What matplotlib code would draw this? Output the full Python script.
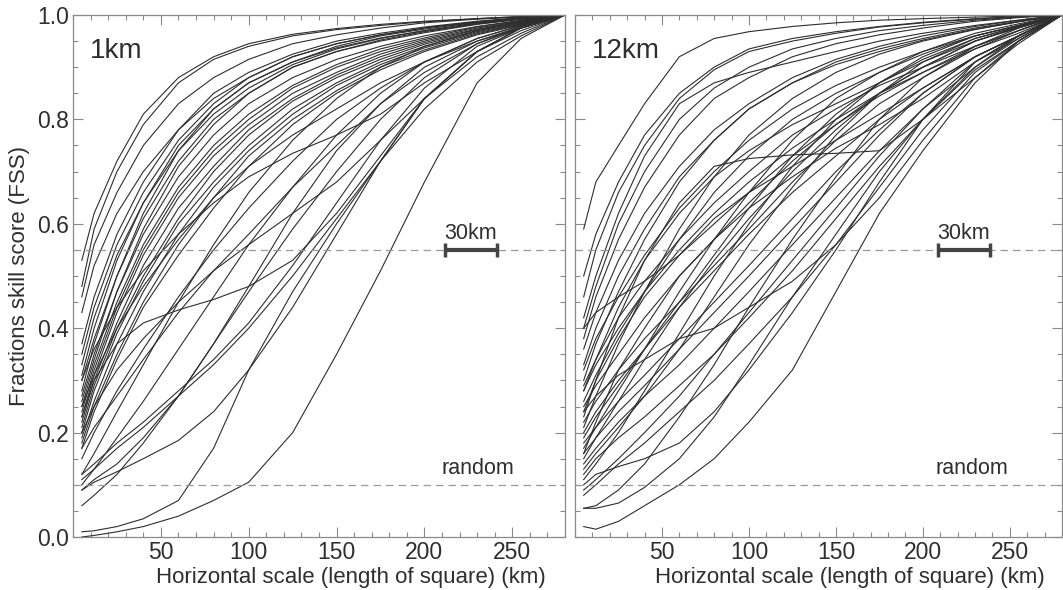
import matplotlib
matplotlib.use('Agg')

import matplotlib.pyplot as plt
from matplotlib.ticker import MultipleLocator

plt.rcParams['font.family'] = ['Liberation Sans', 'DejaVu Sans']
plt.rcParams['font.size'] = 16

# horizontal scale (km) at which each curve is sampled
scale_km = [5, 12, 25, 40, 60, 80, 100, 125, 150, 175, 200, 230, 255, 280]

# FSS curves, 1km model
fss_1km = [
  [0.53, 0.62, 0.72, 0.81, 0.88, 0.92, 0.945, 0.963, 0.974, 0.982, 0.988, 0.993, 0.997, 1.0],
  [0.48, 0.59, 0.70, 0.79, 0.87, 0.915, 0.94, 0.96, 0.972, 0.98, 0.987, 0.993, 0.997, 1.0],
  [0.46, 0.56, 0.66, 0.75, 0.83, 0.88, 0.915, 0.945, 0.962, 0.975, 0.985, 0.992, 0.996, 1.0],
  [0.43, 0.52, 0.62, 0.70, 0.78, 0.84, 0.88, 0.92, 0.945, 0.962, 0.975, 0.987, 0.994, 1.0],
  [0.37, 0.46, 0.58, 0.68, 0.78, 0.85, 0.89, 0.925, 0.95, 0.965, 0.977, 0.988, 0.995, 1.0],
  [0.35, 0.44, 0.56, 0.66, 0.76, 0.83, 0.88, 0.92, 0.945, 0.962, 0.975, 0.987, 0.994, 1.0],
  [0.33, 0.42, 0.54, 0.64, 0.74, 0.81, 0.86, 0.905, 0.935, 0.955, 0.97, 0.985, 0.993, 1.0],
  [0.31, 0.40, 0.53, 0.64, 0.75, 0.82, 0.87, 0.91, 0.94, 0.96, 0.973, 0.986, 0.994, 1.0],
  [0.30, 0.38, 0.50, 0.61, 0.72, 0.80, 0.85, 0.90, 0.93, 0.952, 0.968, 0.983, 0.992, 1.0],
  [0.28, 0.37, 0.50, 0.62, 0.74, 0.82, 0.87, 0.91, 0.937, 0.956, 0.97, 0.984, 0.993, 1.0],
  [0.27, 0.35, 0.47, 0.58, 0.69, 0.77, 0.83, 0.88, 0.915, 0.94, 0.96, 0.978, 0.99, 1.0],
  [0.26, 0.34, 0.47, 0.59, 0.71, 0.79, 0.85, 0.90, 0.93, 0.95, 0.966, 0.982, 0.992, 1.0],
  [0.25, 0.33, 0.45, 0.56, 0.67, 0.75, 0.81, 0.865, 0.905, 0.935, 0.956, 0.977, 0.989, 1.0],
  [0.24, 0.32, 0.44, 0.55, 0.66, 0.74, 0.80, 0.86, 0.90, 0.93, 0.953, 0.975, 0.988, 1.0],
  [0.23, 0.31, 0.43, 0.54, 0.65, 0.73, 0.79, 0.85, 0.89, 0.925, 0.95, 0.973, 0.987, 1.0],
  [0.22, 0.30, 0.41, 0.52, 0.63, 0.71, 0.78, 0.84, 0.885, 0.92, 0.947, 0.972, 0.986, 1.0],
  [0.21, 0.29, 0.40, 0.50, 0.61, 0.70, 0.77, 0.835, 0.88, 0.915, 0.944, 0.97, 0.985, 1.0],
  [0.20, 0.28, 0.39, 0.49, 0.60, 0.68, 0.75, 0.82, 0.87, 0.91, 0.94, 0.968, 0.984, 1.0],
  [0.19, 0.26, 0.37, 0.47, 0.58, 0.67, 0.74, 0.81, 0.865, 0.905, 0.937, 0.966, 0.983, 1.0],
  [0.18, 0.25, 0.35, 0.45, 0.56, 0.65, 0.73, 0.80, 0.855, 0.90, 0.933, 0.964, 0.982, 1.0],
  [0.17, 0.24, 0.34, 0.44, 0.54, 0.63, 0.71, 0.79, 0.85, 0.895, 0.93, 0.962, 0.981, 1.0],
  [0.25, 0.31, 0.40, 0.48, 0.57, 0.65, 0.71, 0.77, 0.82, 0.87, 0.91, 0.95, 0.975, 1.0],
  [0.23, 0.30, 0.37, 0.41, 0.435, 0.455, 0.48, 0.53, 0.62, 0.73, 0.84, 0.93, 0.975, 1.0],
  [0.30, 0.36, 0.44, 0.51, 0.58, 0.64, 0.69, 0.735, 0.77, 0.81, 0.87, 0.93, 0.97, 1.0],
  [0.15, 0.20, 0.28, 0.36, 0.46, 0.55, 0.63, 0.72, 0.80, 0.86, 0.91, 0.955, 0.98, 1.0],
  [0.12, 0.16, 0.24, 0.33, 0.45, 0.56, 0.66, 0.76, 0.84, 0.90, 0.94, 0.97, 0.988, 1.0],
  [0.10, 0.13, 0.19, 0.26, 0.36, 0.46, 0.56, 0.67, 0.77, 0.85, 0.91, 0.955, 0.98, 1.0],
  [0.09, 0.11, 0.14, 0.19, 0.27, 0.37, 0.48, 0.62, 0.74, 0.83, 0.90, 0.95, 0.978, 1.0],
  [0.09, 0.105, 0.125, 0.15, 0.185, 0.24, 0.32, 0.44, 0.58, 0.72, 0.84, 0.93, 0.975, 1.0],
  [0.06, 0.08, 0.12, 0.18, 0.27, 0.37, 0.47, 0.59, 0.70, 0.80, 0.88, 0.945, 0.975, 1.0],
  [0.12, 0.14, 0.18, 0.22, 0.28, 0.34, 0.41, 0.52, 0.64, 0.76, 0.86, 0.94, 0.975, 1.0],
  [0.17, 0.21, 0.27, 0.34, 0.43, 0.51, 0.58, 0.67, 0.75, 0.83, 0.89, 0.945, 0.978, 1.0],
  [0.11, 0.13, 0.17, 0.21, 0.27, 0.33, 0.40, 0.50, 0.61, 0.72, 0.82, 0.91, 0.96, 1.0],
  [0.20, 0.25, 0.32, 0.38, 0.45, 0.51, 0.56, 0.62, 0.68, 0.76, 0.84, 0.92, 0.965, 1.0],
  [0.01, 0.012, 0.02, 0.035, 0.07, 0.17, 0.32, 0.47, 0.60, 0.72, 0.84, 0.93, 0.975, 1.0],
  [0.0, 0.003, 0.01, 0.02, 0.04, 0.07, 0.105, 0.2, 0.35, 0.51, 0.68, 0.87, 0.955, 1.0],
]

# FSS curves, 12km model
fss_12km = [
  [0.59, 0.68, 0.75, 0.83, 0.92, 0.955, 0.968, 0.978, 0.985, 0.99, 0.993, 0.996, 0.998, 1.0],
  [0.50, 0.58, 0.68, 0.77, 0.85, 0.90, 0.935, 0.955, 0.968, 0.978, 0.986, 0.993, 0.997, 1.0],
  [0.46, 0.55, 0.66, 0.75, 0.84, 0.895, 0.93, 0.95, 0.965, 0.977, 0.985, 0.992, 0.997, 1.0],
  [0.42, 0.50, 0.62, 0.73, 0.83, 0.87, 0.89, 0.91, 0.93, 0.95, 0.965, 0.98, 0.99, 1.0],
  [0.23, 0.30, 0.42, 0.53, 0.64, 0.71, 0.725, 0.732, 0.735, 0.74, 0.80, 0.88, 0.945, 1.0],
  [0.10, 0.12, 0.135, 0.15, 0.18, 0.24, 0.32, 0.43, 0.55, 0.68, 0.80, 0.91, 0.96, 1.0],
  [0.055, 0.055, 0.065, 0.095, 0.15, 0.23, 0.33, 0.46, 0.58, 0.70, 0.80, 0.90, 0.96, 1.0],
  [0.055, 0.06, 0.09, 0.14, 0.23, 0.33, 0.44, 0.57, 0.69, 0.80, 0.88, 0.94, 0.975, 1.0],
  [0.02, 0.015, 0.03, 0.06, 0.10, 0.15, 0.22, 0.32, 0.47, 0.62, 0.74, 0.87, 0.95, 1.0],
  [0.40, 0.48, 0.60, 0.70, 0.80, 0.86, 0.90, 0.935, 0.955, 0.97, 0.98, 0.99, 0.996, 1.0],
  [0.38, 0.46, 0.57, 0.67, 0.77, 0.84, 0.88, 0.92, 0.945, 0.962, 0.975, 0.988, 0.995, 1.0],
  [0.36, 0.43, 0.53, 0.62, 0.71, 0.78, 0.83, 0.88, 0.915, 0.94, 0.96, 0.978, 0.99, 1.0],
  [0.33, 0.40, 0.50, 0.59, 0.69, 0.76, 0.82, 0.87, 0.91, 0.935, 0.955, 0.975, 0.988, 1.0],
  [0.32, 0.38, 0.46, 0.54, 0.63, 0.70, 0.76, 0.82, 0.865, 0.90, 0.93, 0.96, 0.98, 1.0],
  [0.30, 0.37, 0.47, 0.57, 0.68, 0.76, 0.82, 0.87, 0.905, 0.93, 0.952, 0.973, 0.987, 1.0],
  [0.29, 0.34, 0.42, 0.49, 0.57, 0.64, 0.70, 0.77, 0.82, 0.865, 0.90, 0.94, 0.97, 1.0],
  [0.28, 0.33, 0.40, 0.47, 0.55, 0.62, 0.68, 0.745, 0.80, 0.85, 0.89, 0.935, 0.965, 1.0],
  [0.26, 0.31, 0.39, 0.47, 0.57, 0.66, 0.73, 0.80, 0.85, 0.89, 0.925, 0.96, 0.98, 1.0],
  [0.25, 0.29, 0.35, 0.42, 0.50, 0.57, 0.64, 0.72, 0.79, 0.845, 0.89, 0.94, 0.97, 1.0],
  [0.24, 0.30, 0.38, 0.46, 0.54, 0.61, 0.66, 0.71, 0.76, 0.81, 0.86, 0.92, 0.96, 1.0],
  [0.22, 0.26, 0.32, 0.38, 0.45, 0.52, 0.59, 0.68, 0.76, 0.83, 0.88, 0.935, 0.97, 1.0],
  [0.21, 0.27, 0.37, 0.47, 0.59, 0.69, 0.77, 0.84, 0.89, 0.925, 0.95, 0.972, 0.987, 1.0],
  [0.20, 0.24, 0.30, 0.36, 0.44, 0.51, 0.58, 0.66, 0.73, 0.80, 0.86, 0.92, 0.96, 1.0],
  [0.19, 0.23, 0.29, 0.36, 0.45, 0.54, 0.63, 0.73, 0.81, 0.87, 0.915, 0.955, 0.978, 1.0],
  [0.18, 0.21, 0.26, 0.31, 0.38, 0.45, 0.52, 0.61, 0.70, 0.78, 0.85, 0.92, 0.96, 1.0],
  [0.17, 0.21, 0.28, 0.36, 0.47, 0.57, 0.66, 0.76, 0.84, 0.89, 0.93, 0.965, 0.983, 1.0],
  [0.16, 0.19, 0.24, 0.29, 0.36, 0.43, 0.50, 0.59, 0.68, 0.77, 0.85, 0.92, 0.96, 1.0],
  [0.15, 0.19, 0.26, 0.34, 0.44, 0.53, 0.61, 0.70, 0.78, 0.85, 0.90, 0.95, 0.977, 1.0],
  [0.14, 0.17, 0.22, 0.27, 0.33, 0.40, 0.47, 0.56, 0.65, 0.74, 0.82, 0.90, 0.955, 1.0],
  [0.13, 0.16, 0.21, 0.27, 0.36, 0.46, 0.56, 0.67, 0.77, 0.85, 0.91, 0.955, 0.978, 1.0],
  [0.12, 0.15, 0.19, 0.23, 0.29, 0.35, 0.42, 0.51, 0.61, 0.71, 0.80, 0.895, 0.95, 1.0],
  [0.11, 0.14, 0.20, 0.28, 0.39, 0.50, 0.60, 0.71, 0.80, 0.87, 0.92, 0.96, 0.98, 1.0],
  [0.09, 0.11, 0.15, 0.20, 0.27, 0.35, 0.43, 0.53, 0.63, 0.73, 0.82, 0.91, 0.96, 1.0],
  [0.08, 0.10, 0.14, 0.18, 0.24, 0.30, 0.37, 0.46, 0.56, 0.67, 0.78, 0.89, 0.95, 1.0],
  [0.16, 0.22, 0.32, 0.40, 0.50, 0.57, 0.63, 0.69, 0.745, 0.79, 0.84, 0.91, 0.955, 1.0],
  [0.28, 0.34, 0.44, 0.53, 0.62, 0.69, 0.74, 0.79, 0.83, 0.87, 0.91, 0.95, 0.975, 1.0],
  [0.24, 0.27, 0.31, 0.34, 0.38, 0.40, 0.44, 0.49, 0.56, 0.65, 0.76, 0.88, 0.95, 1.0],
  [0.40, 0.43, 0.46, 0.49, 0.54, 0.60, 0.66, 0.73, 0.79, 0.85, 0.90, 0.95, 0.977, 1.0],
]

panels = [('1km', fss_1km, 211.5), ('12km', fss_12km, 208.5)]
fss_skill = 0.55
fss_random = 0.1
bar_km = 30

grey = '#8a8a8a'
ink = '#2e2e2e'

fig = plt.figure(figsize=(10.63, 5.90), dpi=100)
axes = [fig.add_axes([0.0687, 0.0898, 0.4628, 0.8848]),
        fig.add_axes([0.5409, 0.0898, 0.4582, 0.8848])]

for i, (ax, (name, curves, bar_x)) in enumerate(zip(axes, panels)):
  for c in curves:
    ax.plot(scale_km, c, color=ink, lw=0.8)

  ax.axhline(fss_skill, color='#999999', lw=0.9, dashes=(6, 4))
  ax.axhline(fss_random, color='#999999', lw=0.9, dashes=(6, 4))

  # 30 km scale bar
  ax.errorbar(bar_x + bar_km / 2, fss_skill, xerr=bar_km / 2, color='#444444',
              elinewidth=3, capsize=5, capthick=2.5, zorder=5)
  ax.text(bar_x, fss_skill + 0.012, '30km', fontsize=15.5, color=ink,
          ha='left', va='bottom')
  ax.text(bar_x - 1.5, fss_random + 0.012, 'random', fontsize=15.5, color=ink,
          ha='left', va='bottom')
  ax.text(0.035, 0.955, name, transform=ax.transAxes, fontsize=20, color=ink,
          ha='left', va='top')

  ax.set_xlim(0, 280)
  ax.set_ylim(0, 1)
  ax.xaxis.set_major_locator(MultipleLocator(50))
  ax.xaxis.set_minor_locator(MultipleLocator(10))
  ax.yaxis.set_major_locator(MultipleLocator(0.2))
  ax.yaxis.set_minor_locator(MultipleLocator(0.05))
  ax.set_xticks([50, 100, 150, 200, 250])
  ax.tick_params(which='both', direction='in', top=True, right=True,
                 color=grey, labelcolor=ink, labelsize=16.5)
  ax.tick_params(which='major', length=7, width=0.8, pad=3)
  ax.tick_params(which='minor', length=3.5, width=0.8)
  for s in ax.spines.values():
    s.set_color(grey)
    s.set_linewidth(0.9)

  ax.set_xlabel('Horizontal scale (length of square) (km)', color=ink)
  ax.xaxis.set_label_coords(0.565, -0.058)
  if (i == 0):
    ax.yaxis.set_major_formatter(plt.FuncFormatter(lambda v, p: '%.1f' % v))
    ax.set_ylabel('Fractions skill score (FSS)', color=ink)
    ax.yaxis.set_label_coords(-0.088, 0.5)
  else:
    ax.set_yticklabels([])

fig.savefig('out.png', dpi=100)
